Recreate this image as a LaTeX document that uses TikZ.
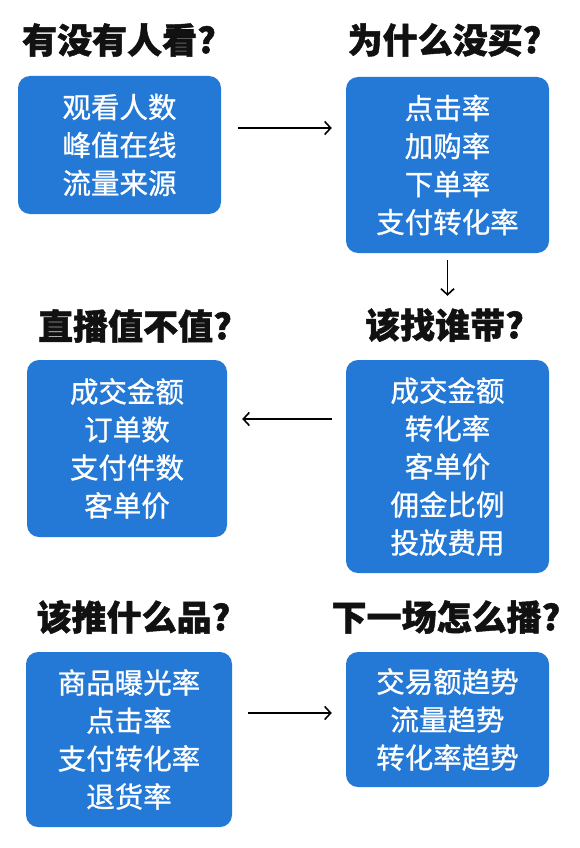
\documentclass[tikz,border=0pt]{standalone}
\usepackage{fontspec}
\newfontfamily\cjk{Noto Sans CJK SC}[BoldFeatures={FakeBold=1.3}]
\newfontfamily\cjkm{Noto Sans CJK SC}[FakeBold=0.9]
\usetikzlibrary{arrows.meta}
\definecolor{boxblue}{HTML}{2479D6}
\definecolor{titleblack}{HTML}{111111}
\tikzset{
  qbox/.style={draw=none, fill=boxblue, rounded corners=12pt, inner sep=0pt,
    text=white, align=center, font=\cjkm\fontsize{28.5pt}{38pt}\selectfont},
  qtitle/.style={inner sep=0pt, text=titleblack, font=\cjk\bfseries\fontsize{35pt}{40pt}\selectfont},
  arr/.style={draw=black, line width=1.6pt, -{Straight Barb[length=6pt,width=13pt,line width=1.6pt]}}
}
\begin{document}
\begin{tikzpicture}[x=1pt,y=-1pt]
\useasboundingbox (0,0) rectangle (579,848);
\fill[white] (0,0) rectangle (579,848);
% titles
\node[qtitle] (t1) at (119,40) {有没有人看?};
\node[qtitle] (t2) at (444.5,40) {为什么没买?};
\node[qtitle] (t3) at (135,326) {直播值不值?};
\node[qtitle] (t4) at (444.5,325) {该找谁带?};
\node[qtitle] (t5) at (133.5,617) {该推什么品?};
\node[qtitle] (t6) at (446,617) {下一场怎么播?};
% boxes
\node[qbox, minimum width=203pt, minimum height=138pt] (b1) at (119.5,145) {观看人数\\峰值在线\\流量来源};
\node[qbox, minimum width=203pt, minimum height=176pt] (b2) at (447.5,165) {点击率\\加购率\\下单率\\支付转化率};
\node[qbox, minimum width=200pt, minimum height=177pt] (b3) at (127,448.5) {成交金额\\订单数\\支付件数\\客单价};
\node[qbox, minimum width=203pt, minimum height=213pt] (b4) at (447.5,466.5) {成交金额\\转化率\\客单价\\佣金比例\\投放费用};
\node[qbox, minimum width=206pt, minimum height=175pt] (b5) at (129,739.5) {商品曝光率\\点击率\\支付转化率\\退货率};
\node[qbox, minimum width=203pt, minimum height=135pt] (b6) at (447.5,719.5) {交易额趋势\\流量趋势\\转化率趋势};
% arrows
\draw[arr] ([xshift=17pt,yshift=17pt]b1.east) -- ([xshift=-14pt,yshift=37pt]b2.west);
\draw[arr, shorten <=7pt, shorten >=64pt] (b2.south) -- (b4.north);
\draw[arr] ([xshift=-14pt,yshift=47.5pt]b4.west) -- ([xshift=15pt,yshift=29.5pt]b3.east);
\draw[arr] ([xshift=16pt,yshift=26.5pt]b5.east) -- ([xshift=-14pt,yshift=6.5pt]b6.west);
\end{tikzpicture}
\end{document}
